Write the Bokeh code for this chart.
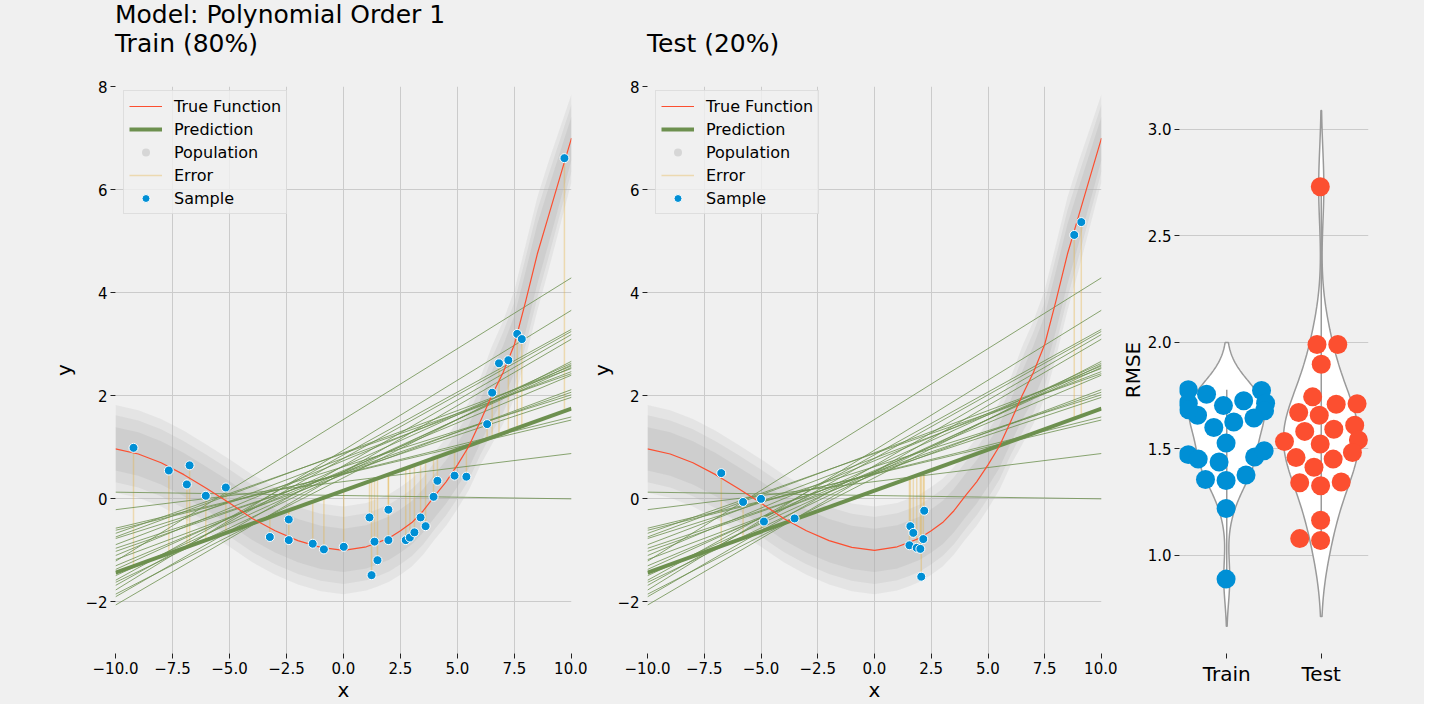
import numpy as np
from bokeh.plotting import figure
from bokeh.layouts import row, column
from bokeh.models import Legend, LegendItem, FixedTicker, Div, Spacer, NumeralTickFormatter
from bokeh.embed import file_html
from bokeh.resources import INLINE

# true function (red curve)
true_x = [-10, -9, -8, -7, -6, -5, -4, -3, -2, -1, 0, 1, 1.5, 2, 2.5, 3, 3.5, 4, 4.5,
          5, 5.5, 6, 6.5, 7, 7.5, 8, 8.5, 9, 9.5, 10]
true_y = [0.97, 0.87, 0.70, 0.47, 0.20, -0.08, -0.38, -0.62, -0.81, -0.94, -1.00, -0.93,
          -0.85, -0.76, -0.62, -0.46, -0.23, 0.06, 0.33, 0.66, 1.02, 1.50, 2.00, 2.45,
          3.00, 3.85, 4.75, 5.50, 6.25, 7.00]
# vertical half-spread of the grey population cloud (outer edge / mid / dense core)
pop_edge = [0.85, 0.85, 0.85, 0.85, 0.85, 0.85, 0.85, 0.85, 0.85, 0.85, 0.85, 0.85,
            0.85, 0.85, 0.85, 0.85, 0.85, 0.85, 0.85, 0.85, 0.85, 0.85, 0.95, 1.0,
            1.05, 1.1, 1.1, 1.05, 0.95, 0.85]
pop_mid = [0.65, 0.65, 0.65, 0.65, 0.65, 0.65, 0.65, 0.65, 0.65, 0.65, 0.65, 0.65,
           0.65, 0.65, 0.65, 0.65, 0.65, 0.65, 0.65, 0.65, 0.65, 0.65, 0.72, 0.78,
           0.82, 0.85, 0.85, 0.8, 0.72, 0.65]
pop_core = [0.42, 0.42, 0.42, 0.42, 0.42, 0.42, 0.42, 0.42, 0.42, 0.42, 0.42, 0.42,
            0.42, 0.42, 0.42, 0.42, 0.42, 0.42, 0.42, 0.42, 0.42, 0.42, 0.47, 0.52,
            0.56, 0.58, 0.58, 0.54, 0.48, 0.42]

# samples
train_x = [-9.21, -7.66, -6.75, -6.87, -6.04, -5.16, -3.23, -2.40, -2.40, -1.35, -0.86,
           0.01, 1.14, 1.36, 1.97, 1.97, 1.49, 1.23, 2.73, 2.91, 3.11, 3.38, 3.60, 3.95,
           4.12, 4.87, 5.39, 6.30, 6.52, 6.82, 7.23, 7.62, 7.82, 9.69]
train_y = [0.99, 0.55, 0.65, 0.28, 0.06, 0.22, -0.74, -0.40, -0.80, -0.87, -0.98,
           -0.93, -0.36, -0.83, -0.21, -0.80, -1.19, -1.48, -0.80, -0.75, -0.65, -0.36,
           -0.53, 0.04, 0.35, 0.45, 0.43, 1.45, 2.06, 2.63, 2.69, 3.20, 3.10, 6.61]
test_x = [-6.75, -5.79, -5.00, -4.87, -3.52, 1.58, 1.71, 1.54, 1.86, 2.02, 2.15, 2.19,
          2.06, 8.80, 9.11]
test_y = [0.50, -0.06, 0.00, -0.44, -0.38, -0.53, -0.66, -0.90, -0.95, -0.97, -0.78,
          -0.23, -1.51, 5.12, 5.37]

# fitted line (thick) and the bootstrap fits, value at x=-10 and x=10
pred_x = [-10, 10]
pred_y = [-1.43, 1.75]
boot_left = [0.13, -0.21, -0.57, -0.61, -0.67, -0.74, -0.77, -0.89, -0.96, -1.02, -1.10,
             -1.18, -1.21, -1.30, -1.37, -1.49, -1.58, -1.62, -1.68, -1.77, -1.85, -1.90,
             -2.06]
boot_right = [0.00, 0.88, 1.53, 1.59, 2.43, 2.53, 2.02, 2.47, 1.97, 2.07, 2.58, 2.12,
              4.29, 2.40, 2.63, 2.55, 3.29, 2.60, 3.25, 3.66, 2.67, 3.19, 3.10]

# RMSE per bootstrap run (violin panel) and swarm offsets
categories = ["Train", "Test"]
rmse_train = [1.777, 1.756, 1.703, 1.726, 1.774, 1.714, 1.679, 1.645, 1.626, 1.600, 1.658,
              1.714, 1.683, 1.527, 1.473, 1.452, 1.438, 1.462, 1.491, 1.356, 1.352, 1.377,
              1.220, 0.889]
train_off = [-0.407, -0.214, -0.035, 0.179, 0.368, 0.411, 0.400, 0.288, 0.074, -0.137,
             -0.309, -0.407, -0.404, -0.007, -0.407, -0.302, -0.081, 0.295, 0.396, -0.225,
             -0.007, 0.204, -0.007, -0.007]
rmse_test = [2.73, 1.99, 1.99, 1.897, 1.744, 1.671, 1.658, 1.709, 1.712, 1.582, 1.592,
             1.611, 1.535, 1.523, 1.542, 1.459, 1.452, 1.483, 1.414, 1.341, 1.327, 1.345,
             1.165, 1.079, 1.070]
test_off = [-0.01, -0.045, 0.175, 0.0, -0.091, -0.239, -0.021, 0.158, 0.379, -0.175,
            0.133, 0.354, -0.389, -0.011, 0.393, -0.267, 0.126, 0.330, -0.077, -0.228,
            -0.007, 0.211, -0.007, -0.228, -0.007]

BLUE, RED, YELLOW, GREEN = "#008fd5", "#fc4f30", "#e5ae38", "#6d904f"
BG, GRID = "#f0f0f0", "#cbcbcb"
FONT = "DejaVu Sans"
HEAD = 60                      # height of the title strip
H, TOP, BOTTOM = 704 - HEAD, 26, 50
FRAME_H = H - TOP - BOTTOM


def base_fig(width, x_range, y_range, left, right):
    p = figure(width=width, height=H, x_range=x_range, y_range=y_range,
               output_backend="svg", toolbar_location=None,
               min_border_left=left, min_border_right=right,
               min_border_top=TOP, min_border_bottom=BOTTOM)
    p.background_fill_color = BG
    p.border_fill_color = BG
    p.outline_line_color = None
    p.grid.grid_line_color = GRID
    p.grid.grid_line_width = 1
    for ax in p.axis:
        ax.axis_line_color = None
        ax.major_tick_line_color = "#222222"
        ax.major_tick_out = 5
        ax.major_tick_in = 0
        ax.minor_tick_line_color = None
        ax.major_label_text_font = FONT
        ax.major_label_text_font_size = "15px"
        ax.major_label_text_color = "black"
        ax.major_label_standoff = 3
        ax.axis_label_text_font = FONT
        ax.axis_label_text_font_size = "20px"
        ax.axis_label_text_font_style = "normal"
        ax.axis_label_text_color = "black"
    return p


def minus(s):
    return s.replace("-", "\u2212")


x_ticks = [-10, -7.5, -5, -2.5, 0, 2.5, 5, 7.5, 10]
y_ticks = [-2, 0, 2, 4, 6, 8]


def scatter_panel(width, left, right, sx, sy, ylab_standoff):
    p = base_fig(width, (-10, 10), (-3, 8), left, right)
    p.xaxis.ticker = FixedTicker(ticks=x_ticks)
    p.xaxis.major_label_overrides = {t: minus("%.1f" % t) for t in x_ticks}
    p.yaxis.ticker = FixedTicker(ticks=y_ticks)
    p.yaxis.major_label_overrides = {t: minus("%d" % t) for t in y_ticks}
    p.xaxis.axis_label = "x"
    p.yaxis.axis_label = "y"
    p.xaxis.axis_label_standoff = 1
    p.yaxis.axis_label_standoff = ylab_standoff

    ty = np.array(true_y)
    for spread, alpha in [(pop_edge, 0.18), (pop_mid, 0.2), (pop_core, 0.25)]:
        s = np.array(spread)
        p.varea(x=true_x, y1=ty - s, y2=ty + s, fill_color="#b0b0b0", fill_alpha=alpha)

    fit_at = np.interp(sx, pred_x, pred_y)
    r_err = p.segment(x0=sx, y0=fit_at, x1=sx, y1=sy, line_color=YELLOW,
                      line_alpha=0.35, line_width=1.5)

    xs = [pred_x for _ in boot_left]
    ys = [[a, b] for a, b in zip(boot_left, boot_right)]
    p.multi_line(xs, ys, line_color=GREEN, line_alpha=0.8, line_width=1)
    r_pred = p.line(pred_x, pred_y, line_color=GREEN, line_width=4)
    r_true = p.line(true_x, true_y, line_color=RED, line_width=1.2)
    r_samp = p.scatter(sx, sy, size=9, fill_color=BLUE, line_color="white", line_width=1)
    r_pop = p.scatter([np.nan], [np.nan], size=8, fill_color="#c4c4c4", fill_alpha=0.6,
                      line_color=None)

    legend = Legend(items=[LegendItem(label="True Function", renderers=[r_true]),
                           LegendItem(label="Prediction", renderers=[r_pred]),
                           LegendItem(label="Population", renderers=[r_pop]),
                           LegendItem(label="Error", renderers=[r_err]),
                           LegendItem(label="Sample", renderers=[r_samp])],
                    location=(8, FRAME_H - 9 - 120))
    legend.label_text_font = FONT
    legend.label_text_font_size = "16px"
    legend.label_text_color = "black"
    legend.label_height = 20
    legend.glyph_height = 20
    legend.glyph_width = 33
    legend.spacing = 3
    legend.padding = 5
    legend.margin = 0
    legend.label_standoff = 12
    legend.border_line_color = "#cccccc"
    legend.background_fill_color = BG
    legend.background_fill_alpha = 0.8
    p.add_layout(legend)
    return p


p1 = scatter_panel(587, 115, 16, train_x, train_y, 6)
p2 = scatter_panel(530, 60, 16, test_x, test_y, 0)

# violin + swarm panel
p3 = base_fig(307, (-0.5, 1.5), (0.54, 3.2), 62, 56)
p3.xgrid.visible = False
p3.xaxis.ticker = FixedTicker(ticks=[0, 1])
p3.xaxis.major_label_overrides = {i: c for i, c in enumerate(categories)}
p3.xaxis.major_label_text_font_size = "20px"
p3.yaxis.ticker = FixedTicker(ticks=[1.0, 1.5, 2.0, 2.5, 3.0])
p3.yaxis.formatter = NumeralTickFormatter(format="0.0")
p3.yaxis.axis_label = "RMSE"
p3.yaxis.axis_label_standoff = 0

for i, (vals, offs, col) in enumerate([(rmse_train, train_off, BLUE),
                                       (rmse_test, test_off, RED)]):
    v = np.array(vals)
    bw = v.std(ddof=1) * len(v) ** (-0.2)
    grid = np.linspace(v.min() - 2 * bw, v.max() + 2 * bw, 200)
    dens = np.exp(-0.5 * ((grid[:, None] - v[None, :]) / bw) ** 2).sum(axis=1)
    half = 0.4 * dens / dens.max()
    p3.patch(np.r_[i - half, (i + half)[::-1]], np.r_[grid, grid[::-1]],
             fill_color="white", line_color="#9a9a9a", line_width=1.5)
    p3.segment(x0=[i], y0=[v.min()], x1=[i], y1=[v.max()], line_color="#9a9a9a",
               line_width=1.5)
    p3.scatter(i + np.array(offs), v, size=19, fill_color=col, line_color=None)

# titles
title_style = {"font-family": FONT, "font-size": "25px", "line-height": "29px",
               "color": "black", "white-space": "nowrap"}
t1 = Div(text="Model: Polynomial Order 1<br>Train (80%)", width=532, height=HEAD,
         margin=0, styles=title_style)
t2 = Div(text="<br>Test (20%)", width=400, height=HEAD, margin=0, styles=title_style)
head = row(Spacer(width=115, height=HEAD, margin=0), t1, t2,
           styles={"background-color": BG})
body = row(p1, p2, p3, styles={"background-color": BG})
layout = column(head, body, styles={"background-color": BG})
open("out.html", "w").write(file_html(layout, INLINE))
